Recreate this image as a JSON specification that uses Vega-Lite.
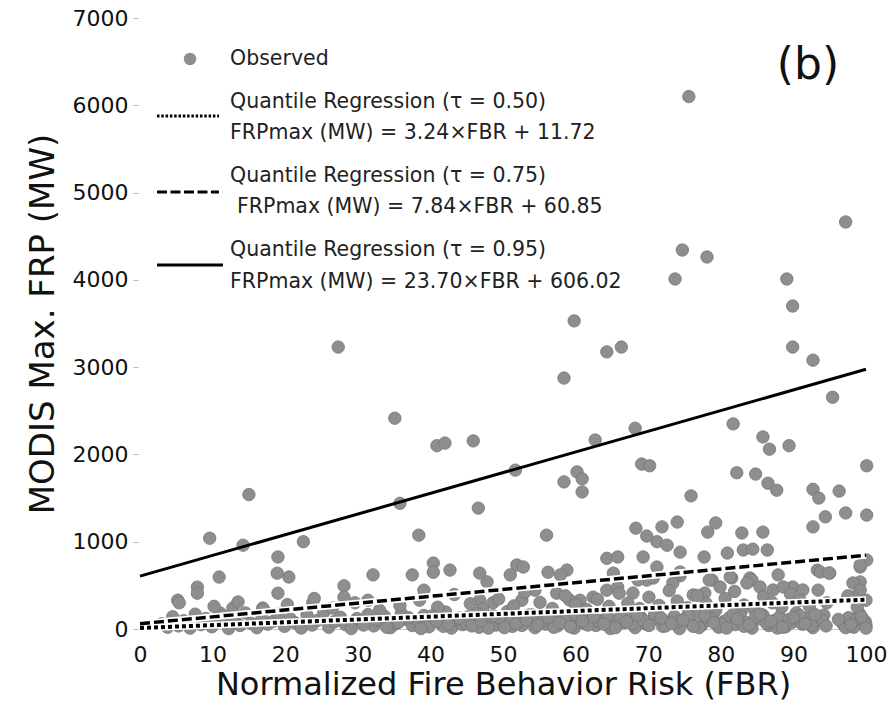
{
  "$schema": "https://vega.github.io/schema/vega-lite/v6.json",
  "width": 726,
  "height": 611,
  "autosize": {"type": "none"},
  "padding": {"left": 140, "top": 18, "right": 29, "bottom": 83},
  "background": "white",
  "config": {
    "view": {"stroke": null},
    "font": "DejaVu Sans",
    "text": {"font": "DejaVu Sans"}
  },
  "datasets": {
    "fires": [
      {"FBR":75.6,"FRP":6100},{"FBR":97.2,"FRP":4663},{"FBR":74.7,"FRP":4342},{"FBR":78.1,"FRP":4262},{"FBR":73.7,"FRP":4010},{"FBR":89.1,"FRP":4010},{"FBR":89.9,"FRP":3700},{"FBR":59.8,"FRP":3530},{"FBR":89.9,"FRP":3230},{"FBR":92.7,"FRP":3080},{"FBR":66.3,"FRP":3230},{"FBR":64.3,"FRP":3175},{"FBR":27.3,"FRP":3230},{"FBR":58.4,"FRP":2875},{"FBR":95.4,"FRP":2655},{"FBR":35.1,"FRP":2415},{"FBR":81.7,"FRP":2350},{"FBR":68.2,"FRP":2300},{"FBR":40.9,"FRP":2100},{"FBR":42.0,"FRP":2130},{"FBR":45.9,"FRP":2155},{"FBR":62.7,"FRP":2165},{"FBR":85.8,"FRP":2200},{"FBR":86.7,"FRP":2060},{"FBR":89.4,"FRP":2100},{"FBR":100.1,"FRP":1870},{"FBR":51.7,"FRP":1820},{"FBR":58.4,"FRP":1685},{"FBR":60.2,"FRP":1800},{"FBR":60.9,"FRP":1720},{"FBR":60.9,"FRP":1570},{"FBR":69.1,"FRP":1890},{"FBR":70.2,"FRP":1870},{"FBR":82.2,"FRP":1790},{"FBR":84.8,"FRP":1775},{"FBR":86.5,"FRP":1670},{"FBR":87.7,"FRP":1590},{"FBR":92.7,"FRP":1600},{"FBR":93.5,"FRP":1500},{"FBR":96.3,"FRP":1580},{"FBR":75.9,"FRP":1525},{"FBR":15.0,"FRP":1540},{"FBR":35.8,"FRP":1440},{"FBR":46.6,"FRP":1385},{"FBR":9.6,"FRP":1040},{"FBR":14.2,"FRP":960},{"FBR":22.5,"FRP":1000},{"FBR":19.0,"FRP":825},{"FBR":38.4,"FRP":1075},{"FBR":56.0,"FRP":1075},{"FBR":68.3,"FRP":1155},{"FBR":69.8,"FRP":1065},{"FBR":71.9,"FRP":1170},{"FBR":74.0,"FRP":1225},{"FBR":71.2,"FRP":1000},{"FBR":72.6,"FRP":960},{"FBR":74.4,"FRP":880},{"FBR":78.2,"FRP":1110},{"FBR":79.3,"FRP":1215},{"FBR":82.9,"FRP":1100},{"FBR":85.8,"FRP":1110},{"FBR":92.7,"FRP":1170},{"FBR":94.4,"FRP":1285},{"FBR":97.2,"FRP":1330},{"FBR":100.1,"FRP":1305},
      {"FBR":18.9,"FRP":640},{"FBR":20.5,"FRP":595},{"FBR":10.9,"FRP":595},{"FBR":7.9,"FRP":480},{"FBR":7.9,"FRP":410},{"FBR":40.4,"FRP":755},{"FBR":40.4,"FRP":650},{"FBR":42.7,"FRP":675},{"FBR":37.5,"FRP":620},{"FBR":46.8,"FRP":640},{"FBR":47.8,"FRP":540},{"FBR":32.1,"FRP":620},{"FBR":28.1,"FRP":495},{"FBR":19.0,"FRP":410},{"FBR":5.2,"FRP":330},{"FBR":5.4,"FRP":300},{"FBR":12.8,"FRP":240},{"FBR":16.9,"FRP":240},{"FBR":23.8,"FRP":300},{"FBR":28.1,"FRP":365},{"FBR":31.4,"FRP":330},{"FBR":11.0,"FRP":185},{"FBR":64.3,"FRP":810},{"FBR":65.8,"FRP":825},{"FBR":69.3,"FRP":825},{"FBR":71.2,"FRP":710},{"FBR":74.4,"FRP":610},{"FBR":77.7,"FRP":825},{"FBR":80.9,"FRP":870},{"FBR":83.1,"FRP":905},{"FBR":84.4,"FRP":915},{"FBR":86.4,"FRP":905},{"FBR":51.9,"FRP":733},{"FBR":52.8,"FRP":710},{"FBR":51.0,"FRP":620},{"FBR":56.2,"FRP":650},{"FBR":58.8,"FRP":675},{"FBR":57.9,"FRP":620},{"FBR":87.9,"FRP":620},{"FBR":93.3,"FRP":675},{"FBR":95.0,"FRP":640},{"FBR":99.2,"FRP":710},{"FBR":100.1,"FRP":790},{"FBR":78.8,"FRP":560},{"FBR":81.5,"FRP":585},{"FBR":69.8,"FRP":560},{"FBR":99.2,"FRP":540},{"FBR":65.2,"FRP":640},{"FBR":39.1,"FRP":445},{"FBR":54.4,"FRP":445},{"FBR":52.6,"FRP":330},{"FBR":46.8,"FRP":330},{"FBR":48.6,"FRP":300},{"FBR":57.4,"FRP":410},{"FBR":59.2,"FRP":330},{"FBR":60.6,"FRP":330},{"FBR":62.4,"FRP":365},{"FBR":64.3,"FRP":445},{"FBR":65.8,"FRP":480},{"FBR":74.4,"FRP":653},{"FBR":81.3,"FRP":596},{"FBR":84.0,"FRP":584},{"FBR":93.7,"FRP":653},{"FBR":94.9,"FRP":641},{"FBR":99.2,"FRP":733},{"FBR":70.7,"FRP":584},{"FBR":73.4,"FRP":527},{"FBR":78.4,"FRP":561},{"FBR":84.3,"FRP":561},{"FBR":89.9,"FRP":481},{"FBR":98.2,"FRP":527},{"FBR":99.2,"FRP":447},{"FBR":98.2,"FRP":367},{"FBR":67.9,"FRP":412},{"FBR":68.6,"FRP":561},{"FBR":76.2,"FRP":390},{"FBR":77.8,"FRP":412},{"FBR":79.9,"FRP":481},{"FBR":83.6,"FRP":527},{"FBR":85.4,"FRP":481},{"FBR":87.2,"FRP":447},{"FBR":88.6,"FRP":481},{"FBR":91.3,"FRP":447},
      {"FBR":3.0,"FRP":60},{"FBR":3.8,"FRP":20},{"FBR":4.5,"FRP":140},{"FBR":5.3,"FRP":35},{"FBR":6.0,"FRP":95},{"FBR":6.9,"FRP":10},{"FBR":7.6,"FRP":170},{"FBR":8.4,"FRP":50},{"FBR":9.1,"FRP":120},{"FBR":9.9,"FRP":25},{"FBR":10.6,"FRP":80},{"FBR":11.5,"FRP":150},{"FBR":12.2,"FRP":5},{"FBR":13.0,"FRP":105},{"FBR":13.8,"FRP":40},{"FBR":14.5,"FRP":185},{"FBR":15.3,"FRP":65},{"FBR":16.1,"FRP":15},{"FBR":16.8,"FRP":130},{"FBR":17.6,"FRP":55},{"FBR":18.4,"FRP":90},{"FBR":19.1,"FRP":175},{"FBR":19.9,"FRP":30},{"FBR":20.7,"FRP":115},{"FBR":21.4,"FRP":70},{"FBR":22.2,"FRP":10},{"FBR":23.0,"FRP":160},{"FBR":23.7,"FRP":45},{"FBR":24.5,"FRP":100},{"FBR":25.3,"FRP":190},{"FBR":26.0,"FRP":20},{"FBR":26.8,"FRP":85},{"FBR":27.6,"FRP":135},{"FBR":28.3,"FRP":50},{"FBR":29.1,"FRP":5},{"FBR":29.9,"FRP":120},{"FBR":30.6,"FRP":75},{"FBR":31.4,"FRP":165},{"FBR":32.2,"FRP":35},{"FBR":32.9,"FRP":95},{"FBR":33.7,"FRP":145},{"FBR":34.5,"FRP":15},{"FBR":35.2,"FRP":60},{"FBR":36.0,"FRP":180},{"FBR":36.8,"FRP":110},{"FBR":37.5,"FRP":40},{"FBR":38.3,"FRP":85},{"FBR":39.1,"FRP":155},{"FBR":39.8,"FRP":25},{"FBR":40.6,"FRP":130},{"FBR":41.4,"FRP":65},{"FBR":42.1,"FRP":195},{"FBR":42.9,"FRP":10},{"FBR":43.7,"FRP":100},{"FBR":44.4,"FRP":50},{"FBR":45.2,"FRP":140},{"FBR":46.0,"FRP":80},{"FBR":46.7,"FRP":20},{"FBR":47.5,"FRP":170},{"FBR":48.3,"FRP":115},{"FBR":49.0,"FRP":45},{"FBR":49.8,"FRP":90},{"FBR":50.6,"FRP":200},{"FBR":51.3,"FRP":30},{"FBR":52.1,"FRP":125},{"FBR":52.9,"FRP":70},{"FBR":53.6,"FRP":160},{"FBR":54.4,"FRP":15},{"FBR":55.2,"FRP":105},{"FBR":55.9,"FRP":55},{"FBR":56.7,"FRP":185},{"FBR":57.5,"FRP":35},{"FBR":58.2,"FRP":140},{"FBR":59.0,"FRP":85},{"FBR":59.8,"FRP":10},{"FBR":60.5,"FRP":120},{"FBR":61.3,"FRP":60},{"FBR":62.1,"FRP":175},{"FBR":62.8,"FRP":40},{"FBR":63.6,"FRP":95},{"FBR":64.4,"FRP":150},{"FBR":65.1,"FRP":25},{"FBR":65.9,"FRP":110},{"FBR":66.7,"FRP":70},{"FBR":67.4,"FRP":190},{"FBR":68.2,"FRP":15},{"FBR":69.0,"FRP":135},{"FBR":69.7,"FRP":55},{"FBR":70.5,"FRP":100},{"FBR":71.3,"FRP":165},{"FBR":72.0,"FRP":30},{"FBR":72.8,"FRP":80},{"FBR":73.6,"FRP":145},{"FBR":74.3,"FRP":5},{"FBR":75.1,"FRP":120},{"FBR":75.9,"FRP":65},{"FBR":76.6,"FRP":180},{"FBR":77.4,"FRP":45},{"FBR":78.2,"FRP":105},{"FBR":78.9,"FRP":155},{"FBR":79.7,"FRP":20},{"FBR":80.5,"FRP":90},{"FBR":81.2,"FRP":130},{"FBR":82.0,"FRP":50},{"FBR":82.8,"FRP":195},{"FBR":83.5,"FRP":75},{"FBR":84.3,"FRP":10},{"FBR":85.1,"FRP":115},{"FBR":85.8,"FRP":160},{"FBR":86.6,"FRP":40},{"FBR":87.4,"FRP":95},{"FBR":88.1,"FRP":140},{"FBR":88.9,"FRP":25},{"FBR":89.7,"FRP":70},{"FBR":90.4,"FRP":185},{"FBR":91.2,"FRP":55},{"FBR":92.0,"FRP":125},{"FBR":92.7,"FRP":15},{"FBR":93.5,"FRP":100},{"FBR":94.2,"FRP":160},{"FBR":96.8,"FRP":60},{"FBR":97.6,"FRP":130},{"FBR":98.3,"FRP":20},{"FBR":99.1,"FRP":175},{"FBR":99.9,"FRP":85},
      {"FBR":10.2,"FRP":260},{"FBR":13.5,"FRP":310},{"FBR":17.0,"FRP":225},{"FBR":20.3,"FRP":280},{"FBR":24.0,"FRP":350},{"FBR":26.5,"FRP":240},{"FBR":29.6,"FRP":300},{"FBR":33.0,"FRP":215},{"FBR":35.8,"FRP":270},{"FBR":38.5,"FRP":330},{"FBR":41.0,"FRP":250},{"FBR":43.3,"FRP":395},{"FBR":45.5,"FRP":290},{"FBR":47.2,"FRP":230},{"FBR":49.4,"FRP":345},{"FBR":51.5,"FRP":265},{"FBR":53.0,"FRP":420},{"FBR":55.1,"FRP":305},{"FBR":56.8,"FRP":235},{"FBR":58.6,"FRP":380},{"FBR":60.0,"FRP":280},{"FBR":61.5,"FRP":225},{"FBR":63.0,"FRP":340},{"FBR":64.6,"FRP":260},{"FBR":66.0,"FRP":410},{"FBR":67.2,"FRP":295},{"FBR":68.8,"FRP":235},{"FBR":70.1,"FRP":365},{"FBR":71.5,"FRP":270},{"FBR":72.9,"FRP":440},{"FBR":74.0,"FRP":320},{"FBR":75.4,"FRP":245},{"FBR":76.8,"FRP":385},{"FBR":78.0,"FRP":290},{"FBR":79.3,"FRP":215},{"FBR":80.6,"FRP":350},{"FBR":81.9,"FRP":430},{"FBR":83.2,"FRP":275},{"FBR":84.6,"FRP":225},{"FBR":85.9,"FRP":370},{"FBR":87.1,"FRP":300},{"FBR":88.4,"FRP":250},{"FBR":89.6,"FRP":400},{"FBR":90.9,"FRP":330},{"FBR":92.2,"FRP":260},{"FBR":93.4,"FRP":445},{"FBR":94.6,"FRP":300},{"FBR":97.5,"FRP":380},{"FBR":98.8,"FRP":250},{"FBR":100.0,"FRP":330},
      {"FBR":40.2,"FRP":150},{"FBR":41.8,"FRP":30},{"FBR":43.5,"FRP":110},{"FBR":45.0,"FRP":60},{"FBR":46.4,"FRP":175},{"FBR":48.0,"FRP":10},{"FBR":49.5,"FRP":130},{"FBR":51.0,"FRP":75},{"FBR":52.6,"FRP":40},{"FBR":54.0,"FRP":160},{"FBR":55.5,"FRP":95},{"FBR":57.0,"FRP":20},{"FBR":58.6,"FRP":120},{"FBR":60.0,"FRP":165},{"FBR":61.7,"FRP":45},{"FBR":63.2,"FRP":85},{"FBR":64.8,"FRP":5},{"FBR":66.2,"FRP":140},{"FBR":67.8,"FRP":60},{"FBR":69.3,"FRP":100},{"FBR":70.9,"FRP":175},{"FBR":72.4,"FRP":35},{"FBR":74.0,"FRP":80},{"FBR":75.5,"FRP":150},{"FBR":77.0,"FRP":15},{"FBR":78.6,"FRP":120},{"FBR":80.1,"FRP":55},{"FBR":81.7,"FRP":170},{"FBR":83.2,"FRP":30},{"FBR":84.8,"FRP":140},{"FBR":86.3,"FRP":65},{"FBR":87.8,"FRP":10},{"FBR":89.4,"FRP":110},{"FBR":90.9,"FRP":150},{"FBR":92.5,"FRP":40},{"FBR":94.0,"FRP":95},{"FBR":97.2,"FRP":15},{"FBR":98.7,"FRP":110},{"FBR":100.0,"FRP":45},
      {"FBR":30.8,"FRP":45},{"FBR":32.5,"FRP":110},{"FBR":34.0,"FRP":20},{"FBR":35.6,"FRP":75},{"FBR":37.0,"FRP":130},{"FBR":38.7,"FRP":5},{"FBR":40.9,"FRP":90},{"FBR":42.5,"FRP":55},{"FBR":44.0,"FRP":125},{"FBR":45.7,"FRP":35},{"FBR":47.0,"FRP":95},{"FBR":48.7,"FRP":150},{"FBR":50.2,"FRP":15},{"FBR":51.8,"FRP":60},{"FBR":53.2,"FRP":105},{"FBR":54.8,"FRP":45},{"FBR":56.2,"FRP":135},{"FBR":57.8,"FRP":70},{"FBR":59.3,"FRP":25},{"FBR":60.9,"FRP":90},{"FBR":62.5,"FRP":140},{"FBR":63.9,"FRP":55},{"FBR":65.5,"FRP":15},{"FBR":67.0,"FRP":85},{"FBR":68.5,"FRP":160},{"FBR":70.1,"FRP":40},{"FBR":71.8,"FRP":125},{"FBR":73.2,"FRP":65},{"FBR":74.8,"FRP":100},{"FBR":76.2,"FRP":30},{"FBR":77.8,"FRP":150},{"FBR":79.0,"FRP":75},{"FBR":80.8,"FRP":10},{"FBR":82.3,"FRP":115},{"FBR":83.9,"FRP":45},{"FBR":85.4,"FRP":170},{"FBR":86.9,"FRP":90},{"FBR":88.5,"FRP":20},{"FBR":90.0,"FRP":130},{"FBR":91.6,"FRP":60},{"FBR":93.0,"FRP":165},{"FBR":94.5,"FRP":35},{"FBR":96.2,"FRP":110},{"FBR":97.9,"FRP":50},{"FBR":99.4,"FRP":140},{"FBR":100.0,"FRP":10}
    ],
    "fits": [
      {"tau":"0.50","FBR":0,"FRP":11.72},{"tau":"0.50","FBR":100,"FRP":335.72},
      {"tau":"0.75","FBR":0,"FRP":60.85},{"tau":"0.75","FBR":100,"FRP":844.85},
      {"tau":"0.95","FBR":0,"FRP":606.02},{"tau":"0.95","FBR":100,"FRP":2976.02}
    ],
    "one": [{}]
  },
  "layer": [
    {
      "data": {"name": "fires"},
      "mark": {"type": "point", "filled": true, "shape": "circle", "size": 155, "color": "#8e8e8e", "stroke": "#767676", "strokeWidth": 0.8, "opacity": 1},
      "encoding": {
        "x": {"field": "FBR", "type": "quantitative",
          "scale": {"domain": [0, 100], "nice": false, "zero": false},
          "axis": {"title": "Normalized Fire Behavior Risk (FBR)", "values": [0,10,20,30,40,50,60,70,80,90,100], "format": "d",
            "labelFontSize": 22, "labelColor": "#111", "labelFlush": false, "labelOverlap": false,
            "ticks": false, "tickSize": 0, "labelPadding": 15, "domain": true, "domainColor": "#c8c8c8", "domainWidth": 1, "grid": false,
            "titleFontSize": 32, "titleFontWeight": "normal", "titleColor": "#111", "titlePadding": 4}},
        "y": {"field": "FRP", "type": "quantitative",
          "scale": {"domain": [0, 7000], "nice": false},
          "axis": {"title": "MODIS Max. FRP (MW)", "values": [0,1000,2000,3000,4000,5000,6000,7000], "format": "d",
            "labelFontSize": 22, "labelColor": "#111", "labelFlush": false, "labelOverlap": false,
            "domain": false, "ticks": true, "tickSize": 5, "tickColor": "#bbbbbb", "offset": 2, "labelPadding": 5, "grid": false,
            "titleFontSize": 34, "titleFontWeight": "normal", "titleColor": "#111", "titlePadding": 12}}
      }
    },
    {
      "data": {"name": "fits"},
      "transform": [{"filter": "datum.tau != '0.95'"}],
      "mark": {"type": "line", "color": "white", "strokeWidth": 7},
      "encoding": {
        "x": {"field": "FBR", "type": "quantitative"},
        "y": {"field": "FRP", "type": "quantitative"},
        "detail": {"field": "tau"}
      }
    },
    {
      "data": {"name": "fits"},
      "transform": [{"filter": "datum.tau == '0.50'"}],
      "mark": {"type": "line", "color": "black", "strokeWidth": 4, "strokeDash": [4, 3]},
      "encoding": {
        "x": {"field": "FBR", "type": "quantitative"},
        "y": {"field": "FRP", "type": "quantitative"}
      }
    },
    {
      "data": {"name": "fits"},
      "transform": [{"filter": "datum.tau == '0.75'"}],
      "mark": {"type": "line", "color": "black", "strokeWidth": 3.5, "strokeDash": [10, 4]},
      "encoding": {
        "x": {"field": "FBR", "type": "quantitative"},
        "y": {"field": "FRP", "type": "quantitative"}
      }
    },
    {
      "data": {"name": "fits"},
      "transform": [{"filter": "datum.tau == '0.95'"}],
      "mark": {"type": "line", "color": "black", "strokeWidth": 3},
      "encoding": {
        "x": {"field": "FBR", "type": "quantitative"},
        "y": {"field": "FRP", "type": "quantitative"}
      }
    },
    {
      "data": {"name": "one"},
      "mark": {"type": "point", "filled": true, "shape": "circle", "size": 155, "color": "#8e8e8e", "opacity": 1},
      "encoding": {"x": {"datum": 6.89, "type": "quantitative"}, "y": {"datum": 6530, "type": "quantitative"}}
    },
    {
      "data": {"name": "one"},
      "mark": {"type": "text", "align": "left", "baseline": "middle", "fontSize": 20.5, "color": "#222", "text": "Observed"},
      "encoding": {"x": {"datum": 12.4, "type": "quantitative"}, "y": {"datum": 6530, "type": "quantitative"}}
    },
    {
      "data": {"name": "one"},
      "mark": {"type": "rule", "color": "black", "strokeWidth": 3, "strokeDash": [2.5, 1.8]},
      "encoding": {"x": {"datum": 2.34, "type": "quantitative"}, "x2": {"datum": 10.88}, "y": {"datum": 5877, "type": "quantitative"}}
    },
    {
      "data": {"name": "one"},
      "mark": {"type": "text", "align": "left", "baseline": "middle", "fontSize": 20.5, "color": "#222", "text": "Quantile Regression (τ = 0.50)"},
      "encoding": {"x": {"datum": 12.4, "type": "quantitative"}, "y": {"datum": 6038, "type": "quantitative"}}
    },
    {
      "data": {"name": "one"},
      "mark": {"type": "text", "align": "left", "baseline": "middle", "fontSize": 20.5, "color": "#222", "text": "FRPmax (MW) = 3.24×FBR + 11.72"},
      "encoding": {"x": {"datum": 12.4, "type": "quantitative"}, "y": {"datum": 5682, "type": "quantitative"}}
    },
    {
      "data": {"name": "one"},
      "mark": {"type": "rule", "color": "black", "strokeWidth": 3, "strokeDash": [10, 3.5]},
      "encoding": {"x": {"datum": 2.34, "type": "quantitative"}, "x2": {"datum": 10.88}, "y": {"datum": 5006, "type": "quantitative"}}
    },
    {
      "data": {"name": "one"},
      "mark": {"type": "text", "align": "left", "baseline": "middle", "fontSize": 20.5, "color": "#222", "text": "Quantile Regression (τ = 0.75)"},
      "encoding": {"x": {"datum": 12.4, "type": "quantitative"}, "y": {"datum": 5190, "type": "quantitative"}}
    },
    {
      "data": {"name": "one"},
      "mark": {"type": "text", "align": "left", "baseline": "middle", "fontSize": 20.5, "color": "#222", "text": "FRPmax (MW) = 7.84×FBR + 60.85"},
      "encoding": {"x": {"datum": 13.36, "type": "quantitative"}, "y": {"datum": 4835, "type": "quantitative"}}
    },
    {
      "data": {"name": "one"},
      "mark": {"type": "rule", "color": "black", "strokeWidth": 3},
      "encoding": {"x": {"datum": 2.34, "type": "quantitative"}, "x2": {"datum": 11.43}, "y": {"datum": 4170, "type": "quantitative"}}
    },
    {
      "data": {"name": "one"},
      "mark": {"type": "text", "align": "left", "baseline": "middle", "fontSize": 20.5, "color": "#222", "text": "Quantile Regression (τ = 0.95)"},
      "encoding": {"x": {"datum": 12.4, "type": "quantitative"}, "y": {"datum": 4342, "type": "quantitative"}}
    },
    {
      "data": {"name": "one"},
      "mark": {"type": "text", "align": "left", "baseline": "middle", "fontSize": 20.5, "color": "#222", "text": "FRPmax (MW) = 23.70×FBR + 606.02"},
      "encoding": {"x": {"datum": 12.4, "type": "quantitative"}, "y": {"datum": 3975, "type": "quantitative"}}
    },
    {
      "data": {"name": "one"},
      "mark": {"type": "text", "align": "center", "baseline": "middle", "fontSize": 44, "color": "#111", "text": "(b)"},
      "encoding": {"x": {"datum": 92.0, "type": "quantitative"}, "y": {"datum": 6450, "type": "quantitative"}}
    }
  ]
}
